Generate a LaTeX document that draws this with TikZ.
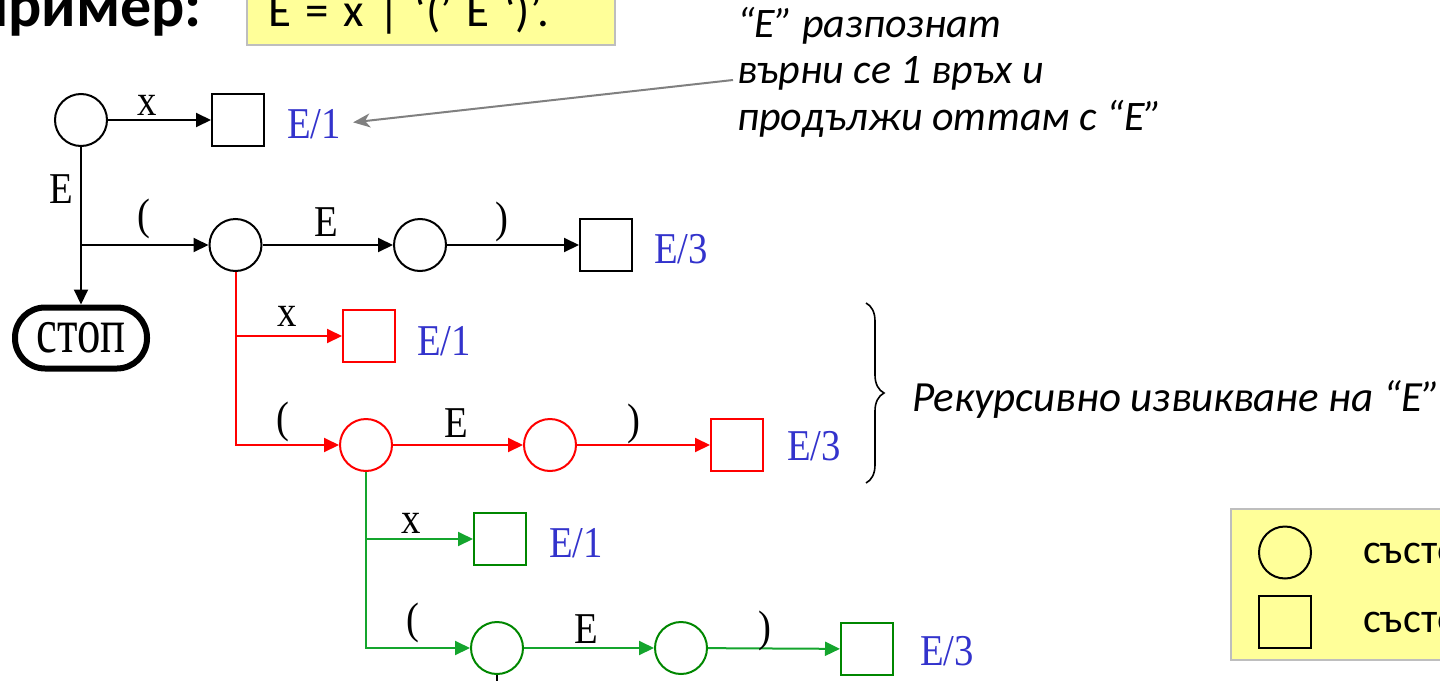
\documentclass[tikz,border=0pt]{standalone}
\usepackage{fontspec}
\usetikzlibrary{arrows.meta,decorations.pathreplacing}
\newfontfamily\tmsfont[FakeStretch=0.88]{Liberation Serif}
\newfontfamily\calfont{Carlito}
\definecolor{lblue}{RGB}{51,51,204}
\definecolor{gline}{RGB}{20,165,45}
\definecolor{gshape}{RGB}{0,135,0}
\definecolor{yfill}{RGB}{255,255,153}
\definecolor{ybord}{RGB}{190,190,190}
\definecolor{lgray}{RGB}{128,128,128}
\tikzset{
  st/.style={circle,draw,line width=2pt,minimum size=52pt,inner sep=0pt},
  fin/.style={rectangle,draw,line width=2pt,minimum size=52pt,inner sep=0pt},
  conn/.style={line width=2pt,-{Triangle[length=15pt,width=14pt]}},
  plain/.style={line width=2pt},
  elab/.style={inner sep=0pt,font=\tmsfont\fontsize{44}{48}\selectfont},
  blab/.style={inner sep=0pt,anchor=base west,text=lblue,font=\tmsfont\fontsize{44}{48}\selectfont},
  itx/.style={inner sep=0pt,anchor=base west,font=\calfont\itshape\fontsize{42}{46}\selectfont},
  legtext/.style={inner sep=0pt,anchor=base west,font=\calfont\fontsize{42}{46}\selectfont},
}
\begin{document}
\begin{tikzpicture}[x=1pt,y=-1pt]
\useasboundingbox (0,0) rectangle (1440,680);
\clip (0,0) rectangle (1440,680);
% title and grammar
\node[inner sep=0pt,anchor=base east,font=\calfont\bfseries\fontsize{62}{66}\selectfont] (title) at (202,26) {Пример:};
\draw[ybord,fill=yfill,line width=2pt] (247,-10) rectangle (615,45);
\node[inner sep=0pt,anchor=base west,font=\calfont\fontsize{47}{50}\selectfont] (gram) at (268,27) {\spaceskip=14.5pt\relax E = x | ‘(’ E ‘)’.};
% annotation
\node[itx] (a1) at (737,37) {“E” разпознат};
\node[itx] (a2) at (737,83) {върни се 1 връх и};
\node[itx] (a3) at (737,130) {продължи оттам с “E”};
% black level
\node[st] (c0) at (81,120) {};
\node[fin] (b0) at (238,120) {};
\node[blab] (e1) at (287,138) {E/1};
\node[rectangle,rounded corners=30pt,draw,line width=6pt,minimum width=132pt,minimum height=61pt,inner sep=0pt] (stop) at (81,338) {\scalebox{0.83}[1]{\tmsfont\fontsize{64}{66}\selectfont стоп}};
\node[st] (c1) at (235.5,245) {};
\node[st] (c2) at (420,245) {};
\node[fin] (b1) at (606,245) {};
\node[blab] (e3) at (654,263) {E/3};
\coordinate (j0) at (81,245);
\draw[conn] (c0) -- (b0);
\draw[conn] (c0) -- (stop);
\draw[conn] (j0) -- (c1);
\draw[conn] (c1) -- (c2);
\draw[conn] (c2) -- (b1);
\node[elab] (lx0) at (147,105) {x};
\node[elab] (lE0) at (61,189) {E};
\node[elab] (lo0) at (144,219) {(};
\node[elab] (lm0) at (326,222) {E};
\node[elab] (lc0) at (502,222) {)};
% red level
\begin{scope}[red]
\node[st] (c3) at (366,445) {};
\node[st] (c4) at (550,445) {};
\node[fin] (b2) at (369,336) {};
\node[fin] (b3) at (737,445) {};
\coordinate (r1) at (235.5,336);
\draw[conn] (c1) |- (c3);
\draw[conn] (r1) -- (b2);
\draw[conn] (c3) -- (c4);
\draw[conn] (c4) -- (b3);
\end{scope}
\node[blab] (re1) at (417,355) {E/1};
\node[blab] (re3) at (787,460) {E/3};
\node[elab] (lx1) at (287,316) {x};
\node[elab] (lo1) at (283,422) {(};
\node[elab] (lm1) at (456,423) {E};
\node[elab] (lc1) at (634,424) {)};
% green level
\node[st,draw=gshape] (c5) at (497,648) {};
\node[st,draw=gshape] (c6) at (681,648) {};
\node[fin,draw=gshape] (b4) at (500,539) {};
\node[fin,draw=gshape] (b5) at (867,649) {};
\coordinate (g1) at (366,539);
\begin{scope}[gline]
\draw[conn] (c3) |- (c5);
\draw[conn] (g1) -- (b4);
\draw[conn] (c5) -- (c6);
\draw[conn] (c6) -- (b5);
\end{scope}
\coordinate (cut) at (497,700);
\draw[plain] (c5) -- (cut);
\node[blab] (ge1) at (549,557) {E/1};
\node[blab] (ge3) at (920,665) {E/3};
\node[elab] (lx2) at (411,523) {x};
\node[elab] (lo2) at (413,623) {(};
\node[elab] (lm2) at (586,629) {E};
\node[elab] (lc2) at (765,631) {)};
% leader arrow
\coordinate (lead) at (733,80);
\draw[lgray,line width=2pt,-{Stealth[length=17pt,width=14pt,inset=5pt]},shorten >=12pt] (lead) -- (e1.east);
% brace
\coordinate (bt) at (866,303);
\coordinate (bb) at (866,483);
\draw[line width=1.6pt,decorate,decoration={brace,amplitude=18pt}] (bt) -- (bb);
\node[itx,font=\calfont\itshape\fontsize{43}{46}\selectfont] (rec) at (912,411) {Рекурсивно извикване на “E”};
% legend
\draw[ybord,fill=yfill,line width=2pt] (1231,509) rectangle (1470,660);
\node[st] (lc) at (1285,552.5) {};
\node[fin] (ls) at (1285,622) {};
\node[legtext] (lt1) at (1363,563) {състо};
\node[legtext] (lt2) at (1363,632) {състо};
\end{tikzpicture}
\end{document}
